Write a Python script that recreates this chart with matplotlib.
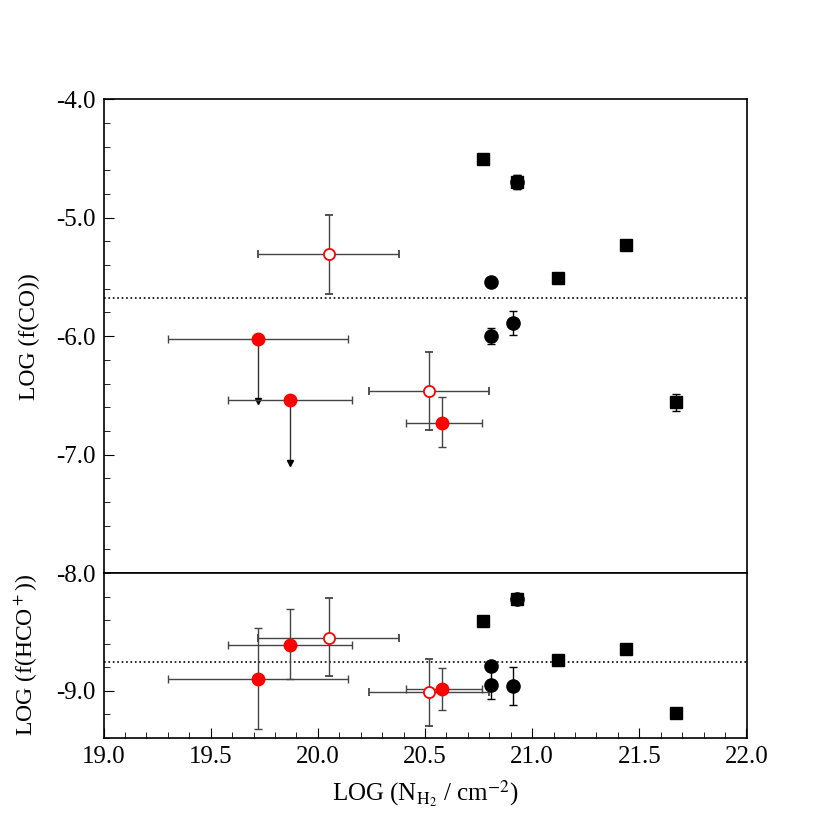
import matplotlib
matplotlib.use('Agg')
import matplotlib.pyplot as plt
import numpy as np

plt.rcParams['font.family'] = ['Liberation Serif', 'DejaVu Serif']
plt.rcParams['mathtext.fontset'] = 'stix'

# --- log N(H2) for each sample ---
x_sq = [20.77, 20.93, 21.12, 21.44, 21.67]
x_ci = [20.81, 20.81, 20.91, 20.93]
x_red = [19.72, 19.87, 20.58]
x_red_xlo = [19.30, 19.58, 20.41]
x_red_xhi = [20.14, 20.16, 20.765]
x_open = [20.05, 20.52]
x_open_xlo = [19.72, 20.24]
x_open_xhi = [20.38, 20.80]

# --- CO panel ---
co_sq = [-4.50, -4.70, -5.51, -5.23, -6.56]
co_sq_err = [0.0, 0.06, 0.0, 0.0, 0.075]
co_ci = [-5.54, -6.00, -5.89, -4.70]
co_ci_err = [0.0, 0.07, 0.10, 0.06]
co_red = [-6.02, -6.54, -6.73]
co_red_lo = [0.0, 0.0, 0.21]
co_red_hi = [0.0, 0.0, 0.22]
co_red_limit = [True, True, False]
co_arrow = [0.53, 0.53, 0.0]
co_open = [-5.31, -6.46]
co_open_lo = [0.33, 0.33]
co_open_hi = [0.33, 0.33]
co_ref = -5.68

# --- HCO+ panel ---
hco_sq = [-8.41, -8.22, -8.74, -8.65, -9.19]
hco_sq_err = [0.0, 0.02, 0.0, 0.0, 0.0]
hco_ci = [-8.79, -8.95, -8.96, -8.22]
hco_ci_err = [0.0, 0.12, 0.16, 0.02]
hco_red = [-8.90, -8.61, -8.99]
hco_red_lo = [0.43, 0.29, 0.18]
hco_red_hi = [0.43, 0.30, 0.18]
hco_open = [-8.55, -9.01]
hco_open_lo = [0.33, 0.29]
hco_open_hi = [0.34, 0.28]
hco_ref = -8.76

fig = plt.figure(figsize=(8.3, 8.3), dpi=100)
left, right = 103.5 / 830, 746.5 / 830
top, split, bottom = 1 - 99.3 / 830, 1 - 573 / 830, 1 - 737.5 / 830
ax1 = fig.add_axes([left, split, right - left, top - split])
ax2 = fig.add_axes([left, bottom, right - left, split - bottom], sharex=ax1)

err_kw = dict(ecolor='#444444', elinewidth=1, capsize=3, capthick=1, ls='none')


def xerr_of(x, lo, hi):
    x = np.asarray(x)
    return [x - np.asarray(lo), np.asarray(hi) - x]


def draw_panel(ax, sq, sq_err, ci, ci_err, red, red_lo, red_hi, opn, opn_lo, opn_hi, ref):
    ax.axhline(ref, color='black', ls=':', lw=1.2, zorder=1)
    ax.errorbar(x_red, red, xerr=xerr_of(x_red, x_red_xlo, x_red_xhi),
                yerr=[red_lo, red_hi], fmt='o', color='red', ms=9, zorder=3, **err_kw)
    ax.errorbar(x_open, opn, xerr=xerr_of(x_open, x_open_xlo, x_open_xhi),
                yerr=[opn_lo, opn_hi], fmt='o', mfc='white', mec='red', mew=1.3, ms=8,
                zorder=3, **err_kw)
    ax.errorbar(x_sq, sq, yerr=sq_err, fmt='s', color='black', ms=9, ecolor='black',
                elinewidth=1, capsize=3, zorder=3)
    ax.errorbar(x_ci, ci, yerr=ci_err, fmt='o', color='black', ms=9.5, ecolor='black',
                elinewidth=1, capsize=3, zorder=3)


draw_panel(ax1, co_sq, co_sq_err, co_ci, co_ci_err, co_red, co_red_lo, co_red_hi,
           co_open, co_open_lo, co_open_hi, co_ref)
# upper-limit arrows
for xv, yv, lim, ln in zip(x_red, co_red, co_red_limit, co_arrow):
    if lim:
        ax1.plot([xv, xv], [yv, yv - ln], color='#333333', lw=1, zorder=2)
        ax1.plot([xv], [yv - ln], marker='v', color='black', ms=4, zorder=2)

draw_panel(ax2, hco_sq, hco_sq_err, hco_ci, hco_ci_err, hco_red, hco_red_lo, hco_red_hi,
           hco_open, hco_open_lo, hco_open_hi, hco_ref)

ax1.set_xlim(19.0, 22.0)
ax1.set_ylim(-8.0, -4.0)
ax2.set_ylim(-9.4, -8.0)

ax1.set_yticks([-4.0, -5.0, -6.0, -7.0, -8.0])
ax1.set_yticks(np.arange(-8.0, -3.99, 0.2), minor=True)
ax2.set_yticks([-9.0])
ax2.set_yticks(np.arange(-9.4, -8.0, 0.2), minor=True)
ax2.set_xticks(np.arange(19.0, 22.01, 0.5))
ax2.set_xticks(np.arange(19.0, 22.01, 0.1), minor=True)

for ax in (ax1, ax2):
    ax.yaxis.set_major_formatter(plt.FormatStrFormatter('%.1f'))
    ax.tick_params(which='both', direction='in', top=False, right=False, labelsize=18)
    ax.tick_params(which='major', length=7, pad=6)
    ax.tick_params(which='minor', length=4)
    for s in ax.spines.values():
        s.set_linewidth(1.2)
ax2.xaxis.set_major_formatter(plt.FormatStrFormatter('%.1f'))
ax1.tick_params(axis='x', which='both', bottom=False, labelbottom=False)

ax1.set_ylabel('LOG (f(CO))', fontsize=17)
ax2.set_ylabel(r'LOG (f(HCO$^+$))', fontsize=17)
ax1.yaxis.set_label_coords(-0.098, 0.5)
ax2.yaxis.set_label_coords(-0.098, 0.5)
ax2.set_xlabel(r'LOG (N$_{\mathrm{H_2}}$ / cm$^{-2}$)', fontsize=18, labelpad=8)

fig.savefig('out.png', dpi=100)
